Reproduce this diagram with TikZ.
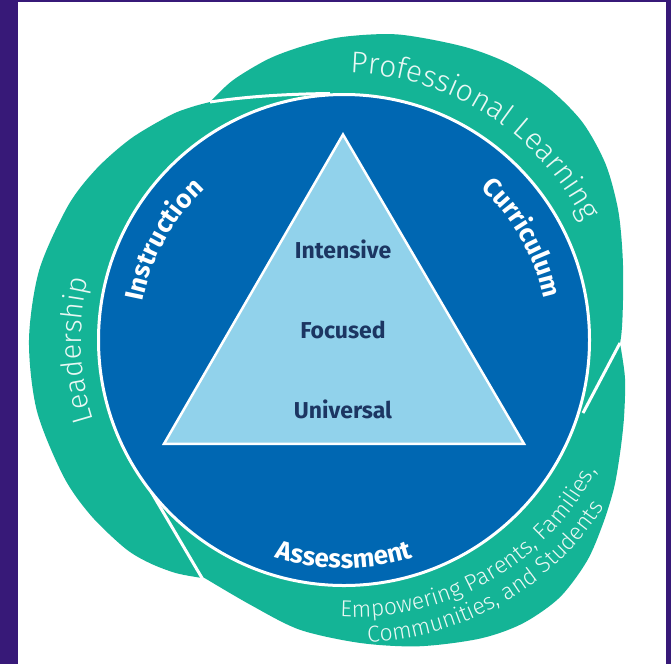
\documentclass[tikz,border=0pt]{standalone}
\usepackage{fontspec}
\usetikzlibrary{decorations.text}
\newfontfamily\lightfont{Fira Sans Light}
\newfontfamily\firasans{Fira Sans}
\definecolor{frameviolet}{RGB}{55,25,120}
\definecolor{bandgreen}{RGB}{20,180,150}
\definecolor{circblue}{RGB}{0,103,178}
\definecolor{trifill}{RGB}{145,210,235}
\definecolor{navytxt}{RGB}{28,54,98}
\definecolor{softwhite}{RGB}{232,248,244}
\newcommand{\plfont}{\lightfont\fontsize{30}{30}\selectfont}
\newcommand{\ldfont}{\lightfont\fontsize{29}{29}\selectfont}
\newcommand{\emfont}{\lightfont\fontsize{23}{23}\selectfont}
\newcommand{\labfont}{\firasans\bfseries\fontsize{26}{26}\selectfont}
\newcommand{\trifont}{\firasans\bfseries\fontsize{23}{23}\selectfont}
\tikzset{
  band/.style={fill=bandgreen},
  tailline/.style={draw=white, line width=3pt},
  curvedlight/.style={decorate, decoration={text along path, text align=center, text color=softwhite, text={#1}}},
  curvedbold/.style={decorate, decoration={text along path, text align=center, text color=white, text={#1}}},
  tierlabel/.style={anchor=base, font=\trifont, text=navytxt, inner sep=0pt}
}
\begin{document}
\begin{tikzpicture}[x=1pt,y=-1pt]
\useasboundingbox (0,0) rectangle (671,664);
\fill[white] (0,0) rectangle (671,664);
\fill[frameviolet] (0,0) rectangle (18,664);
\fill[frameviolet] (666,0) rectangle (671,664);
\fill[frameviolet] (0,0) rectangle (671,1.5);

% Professional Learning band (centre of its outer edge ~ (370,300))
\fill[band] plot[smooth] coordinates {
  ([shift={(370,300)}]231.1:254.6) ([shift={(370,300)}]238:259) ([shift={(370,300)}]247:261.5)
  ([shift={(370,300)}]255:262.5) ([shift={(370,300)}]264:264.5) ([shift={(370,300)}]276:267)
  ([shift={(370,300)}]290:270) ([shift={(370,300)}]300:274) ([shift={(370,300)}]310:277)
  ([shift={(370,300)}]320:277) ([shift={(370,300)}]330:272) ([shift={(370,300)}]340:264)
  ([shift={(370,300)}]350:256.5) ([shift={(370,300)}]0:253) ([shift={(370,300)}]9.8:253.7)
  ([shift={(370,300)}]20:250) ([shift={(370,300)}]30:245)}
  -- (344,340) -- (322,94) .. controls (290,94) and (250,96) .. (210,102) -- cycle;

% Empowering band (centre of its outer edge ~ (355,345))
\fill[band] (344,340) -- (120,470) -- plot[smooth] coordinates {
  ([shift={(355,345)}]123.2:277.4) ([shift={(355,345)}]112:280) ([shift={(355,345)}]101:290)
  ([shift={(355,345)}]89:298) ([shift={(355,345)}]78:308) ([shift={(355,345)}]67:319)
  ([shift={(355,345)}]59:325) ([shift={(355,345)}]51:325) ([shift={(355,345)}]43:317)
  ([shift={(355,345)}]36:306) ([shift={(355,345)}]29:296) ([shift={(355,345)}]22:286)
  ([shift={(355,345)}]15:278.5) ([shift={(355,345)}]7:272) ([shift={(355,345)}]-0.4:265)}
  -- (583,413) -- cycle;

% Leadership band (centre of its outer edge ~ (300,340))
\fill[band] (344,340) -- (340,85) -- (265,90) -- plot[smooth] coordinates {
  ([shift={(300,340)}]255:252) ([shift={(300,340)}]249.3:254.4) ([shift={(300,340)}]245:257)
  ([shift={(300,340)}]240:259.5) ([shift={(300,340)}]230:263) ([shift={(300,340)}]220:266)
  ([shift={(300,340)}]210:268) ([shift={(300,340)}]195:270) ([shift={(300,340)}]180:271)
  ([shift={(300,340)}]165:272.5) ([shift={(300,340)}]150:273) ([shift={(300,340)}]140:273)
  ([shift={(300,340)}]130:272) ([shift={(300,340)}]124:269) ([shift={(300,340)}]118:264)
  ([shift={(300,340)}]112.4:257.4)}
  -- (156,500) -- cycle;

% white edges of the tails
\draw[tailline] (210,102) .. controls (250,96) and (290,94) .. (330,93.5);
\draw[tailline] (202,578) -- (151.3,492);
\draw[tailline] (620,343) -- (583,413);

% main circle
\draw[white, line width=3pt, fill=circblue] (344,340) circle[radius=245.5];

% triangle
\draw[white, line width=2.5pt, fill=trifill, line join=miter] (343,134.5) -- (524,443.8) -- (164,443.8) -- cycle;

\node[tierlabel] (intensive) at (343,258) {Intensive};
\node[tierlabel] (focused) at (343,338) {Focused};
\node[tierlabel] (universal) at (343,418) {Universal};

% ring labels
\path[curvedbold={|\labfont|Instruction}] (344,340) ++(169:205) arc[start angle=169, end angle=249, radius=205];
\path[curvedbold={|\labfont|Curriculum}] (344,340) ++(-69.8:204) arc[start angle=-69.8, end angle=10.2, radius=204];
\path[curvedbold={|\labfont|Assessment}] (344,340) ++(140:228) arc[start angle=140, end angle=40, radius=228];

% outer band labels
\path[curvedlight={|\plfont|Professional Learning}] (344,340) ++(-107.5:267) arc[start angle=-107.5, end angle=-7.5, radius=267];
\path[curvedlight={|\ldfont|Leadership}] (344,340) ++(137.8:263) arc[start angle=137.8, end angle=217.8, radius=263];
\path[curvedlight={|\emfont|Empowering Parents, Families,}] (355,345) ++(120.3:272) arc[start angle=120.3, end angle=0.3, radius=272];
\path[curvedlight={|\emfont|Communities, and Students}] (355,345) ++(120.3:297.5) arc[start angle=120.3, end angle=0.3, radius=297.5];
\end{tikzpicture}
\end{document}
